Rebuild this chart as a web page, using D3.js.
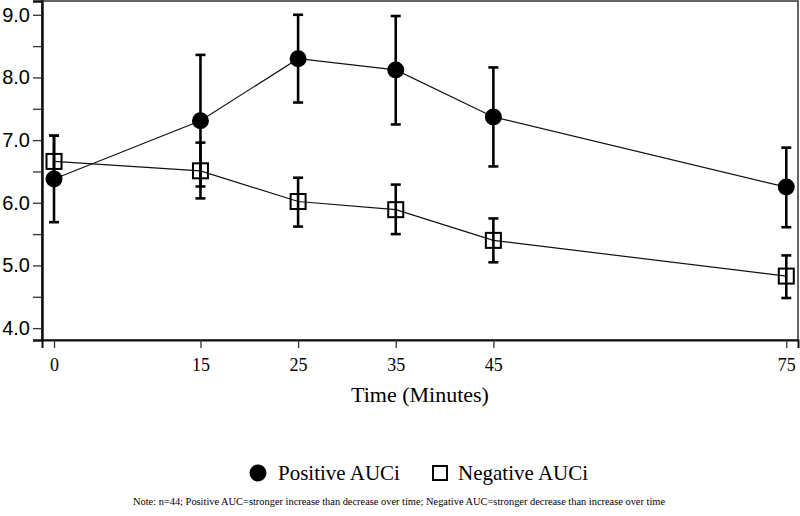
<!DOCTYPE html>
<html><head><meta charset="utf-8">
<script src="https://cdn.jsdelivr.net/npm/d3@7"></script>
<style>body{margin:0;background:#fff}svg{display:block}</style>
</head><body>
<svg id="c" width="800" height="516"></svg>
<script>
const times = [0, 15, 25, 35, 45, 75];
const posMean = [6.38, 7.31, 8.30, 8.12, 7.37, 6.25];
const posLow  = [5.69, 6.26, 7.60, 7.25, 6.58, 5.61];
const posHigh = [7.07, 8.36, 9.00, 8.98, 8.16, 6.88];
const negMean = [6.66, 6.51, 6.02, 5.89, 5.40, 4.83];
const negLow  = [6.31, 6.07, 5.62, 5.50, 5.05, 4.48];
const negHigh = [7.07, 6.96, 6.40, 6.29, 5.75, 5.16];
const yTicks = [4, 5, 6, 7, 8, 9];
const yMinor = [4.5, 5.5, 6.5, 7.5, 8.5];
const xLabel = "Time (Minutes)";
const legendLabels = ["Positive AUCi", "Negative AUCi"];
const note = "Note: n=44; Positive AUC=stronger increase than decrease over time; Negative AUC=stronger decrease than increase over time";

const svg = d3.select("#c");
const L = 42, R = 798, T = 1, B = 340;
const x = d3.scaleLinear().domain([-1.23, 76.2]).range([L, R]);
const y = d3.scaleLinear().domain([3.81, 9.22]).range([B, T]);

// frame
svg.append("rect").attr("x", L).attr("y", T).attr("width", R - L).attr("height", B - T)
  .attr("fill", "none").attr("stroke", "#333").attr("stroke-width", 1.5);

// y axis
const yAx = svg.append("g").attr("transform", `translate(${L},0)`)
  .call(d3.axisLeft(y).tickValues(yTicks).tickFormat(d3.format(".1f")).tickSize(9).tickPadding(3));
yAx.selectAll("text").attr("font-family", "Liberation Sans, Arial, sans-serif").attr("font-size", 20).attr("fill", "#000");
yAx.append("g").call(d3.axisLeft(y).tickValues(yMinor).tickFormat("").tickSize(9));
yAx.selectAll(".domain").attr("stroke", "#111").attr("stroke-width", 2);
yAx.selectAll(".tick line").attr("stroke", "#333").attr("stroke-width", 1.3);

// x axis
const xAx = svg.append("g").attr("transform", `translate(0,${B})`)
  .call(d3.axisBottom(x).tickValues(times).tickFormat(d3.format("d")).tickSize(8).tickPadding(10));
xAx.selectAll("text").attr("font-family", "Liberation Serif, Times New Roman, serif").attr("font-size", 18).attr("fill", "#000");
xAx.selectAll(".domain").attr("stroke", "#111").attr("stroke-width", 2);
xAx.selectAll(".tick line").attr("stroke", "#333").attr("stroke-width", 1.3);

svg.append("text").attr("x", (L + R) / 2).attr("y", 402).attr("text-anchor", "middle")
  .attr("font-family", "Liberation Serif, Times New Roman, serif").attr("font-size", 22).text(xLabel);

const line = d3.line().x(d => x(d[0])).y(d => y(d[1]));

function series(mean, low, high) {
  const pts = times.map((t, i) => [t, mean[i]]);
  svg.append("path").attr("d", line(pts)).attr("fill", "none").attr("stroke", "#111").attr("stroke-width", 1.2);
  const g = svg.append("g").attr("stroke", "#000").attr("stroke-width", 2.6);
  times.forEach((t, i) => {
    const cx = x(t);
    g.append("line").attr("x1", cx).attr("x2", cx).attr("y1", y(low[i])).attr("y2", y(high[i]));
    g.append("line").attr("x1", cx - 5).attr("x2", cx + 5).attr("y1", y(low[i])).attr("y2", y(low[i]));
    g.append("line").attr("x1", cx - 5).attr("x2", cx + 5).attr("y1", y(high[i])).attr("y2", y(high[i]));
  });
  return pts;
}
const negPts = series(negMean, negLow, negHigh);
const posPts = series(posMean, posLow, posHigh);

svg.append("g").selectAll("rect").data(negPts).join("rect")
  .attr("x", d => x(d[0]) - 7.5).attr("y", d => y(d[1]) - 7.5).attr("width", 15).attr("height", 15)
  .attr("fill", "none").attr("stroke", "#000").attr("stroke-width", 2);
svg.append("g").selectAll("circle").data(posPts).join("circle")
  .attr("cx", d => x(d[0])).attr("cy", d => y(d[1])).attr("r", 8.5).attr("fill", "#000");

// legend
svg.append("circle").attr("cx", 258).attr("cy", 473).attr("r", 8.5).attr("fill", "#000");
svg.append("text").attr("x", 278).attr("y", 480).attr("font-family", "Liberation Serif, Times New Roman, serif")
  .attr("font-size", 21).text(legendLabels[0]);
svg.append("rect").attr("x", 433).attr("y", 466).attr("width", 14).attr("height", 14)
  .attr("fill", "none").attr("stroke", "#000").attr("stroke-width", 2);
svg.append("text").attr("x", 458).attr("y", 480).attr("font-family", "Liberation Serif, Times New Roman, serif")
  .attr("font-size", 21).text(legendLabels[1]);

svg.append("text").attr("x", 399).attr("y", 505).attr("text-anchor", "middle")
  .attr("font-family", "Liberation Serif, Times New Roman, serif").attr("font-size", 10.4).text(note);
</script>
</body></html>
